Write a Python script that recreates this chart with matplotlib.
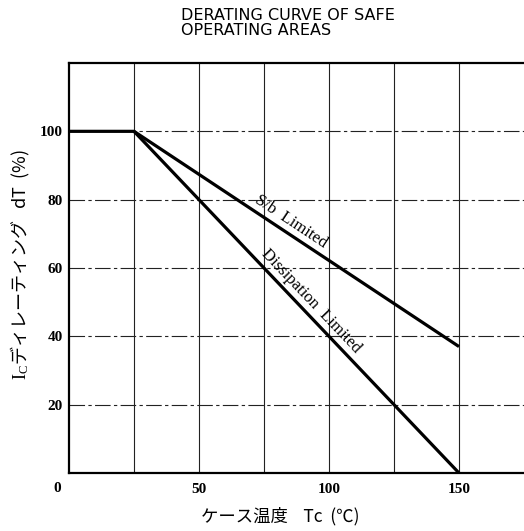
import numpy as np
import matplotlib
matplotlib.use("Agg")
import matplotlib.pyplot as plt
from matplotlib import transforms

plt.rcParams['mathtext.fontset'] = 'custom'
plt.rcParams['mathtext.rm'] = 'Liberation Serif'

# Data
sb_temp = [0, 25, 150]
sb_pct = [100, 100, 37]
diss_temp = [25, 150]
diss_pct = [100, 0]
x_ticks = [50, 100, 150]
y_ticks = [20, 40, 60, 80, 100]
x_grid = [25, 50, 75, 100, 125, 150]
y_grid = [20, 40, 60, 80, 100]

fig = plt.figure(figsize=(5.24, 5.31), dpi=100)
ax = fig.add_axes([69/524, 58/531, 1 - 69/524, 410/531])
ax.set_xlim(0, 175)
ax.set_ylim(0, 120)

for xv in x_grid:
    ax.axvline(xv, color='#222222', lw=0.8, zorder=1)
for yv in y_grid:
    ax.axhline(yv, color='#222222', lw=0.8, dashes=(14, 3, 3, 3), zorder=1)

ax.plot(sb_temp, sb_pct, color='black', lw=2.3, solid_capstyle='butt', zorder=3)
ax.plot(diss_temp, diss_pct, color='black', lw=2.3, solid_capstyle='butt', zorder=3)

for s in ['left', 'bottom', 'top']:
    ax.spines[s].set_linewidth(1.6)
ax.spines['right'].set_visible(False)

tick_font = dict(family='Liberation Serif', fontweight='bold', fontsize=11)
ax.set_xticks(x_ticks)
ax.set_xticklabels([str(v) for v in x_ticks], **tick_font)
ax.set_yticks(y_ticks)
ax.set_yticklabels([str(v) for v in y_ticks], **tick_font)
ax.tick_params(axis='x', length=0, pad=7)
ax.tick_params(axis='y', length=0, pad=4.5)
ax.text(-3, -4.5, "0", ha='right', va='center', **tick_font)

fig.canvas.draw()

def angle_of(x0, y0, x1, y1):
    p0 = ax.transData.transform((x0, y0))
    p1 = ax.transData.transform((x1, y1))
    return np.degrees(np.arctan2(p1[1] - p0[1], p1[0] - p0[0]))

def interp(xs, ys, x):
    return float(np.interp(x, xs, ys))

def line_label(text, xs, ys, xpos, gap_pt):
    ang = angle_of(xs[-2], ys[-2], xs[-1], ys[-1])
    th = np.radians(ang)
    dx, dy = -np.sin(th) * gap_pt, np.cos(th) * gap_pt
    tr = transforms.offset_copy(ax.transData, fig=fig, x=dx, y=dy, units='points')
    ax.text(xpos, interp(xs, ys, xpos), text, rotation=ang, rotation_mode='anchor',
            ha='center', va='bottom', transform=tr,
            family='Liberation Serif', fontsize=12)

line_label("S/b  Limited", sb_temp, sb_pct, 83, 2.5)
line_label("Dissipation  Limited", diss_temp, diss_pct, 90, 2.5)

fig.text(181/524, 1 - 8/531, "DERATING CURVE OF SAFE\nOPERATING AREAS",
         ha='left', va='top', fontsize=11.5, family='DejaVu Sans', linespacing=1.0)

fig.text(20/524, 1 - 265/531, r"$\mathrm{I_C}$ディレーティング   dT  (%)",
         rotation=90, ha='center', va='center', fontsize=13,
         family='Noto Sans CJK JP')

fig.text(280/524, 1 - 516/531, "ケース温度    Tc  (℃)", ha='center', va='center',
         fontsize=12.5, family='Noto Sans CJK JP')

fig.savefig("out.png", dpi=100)
